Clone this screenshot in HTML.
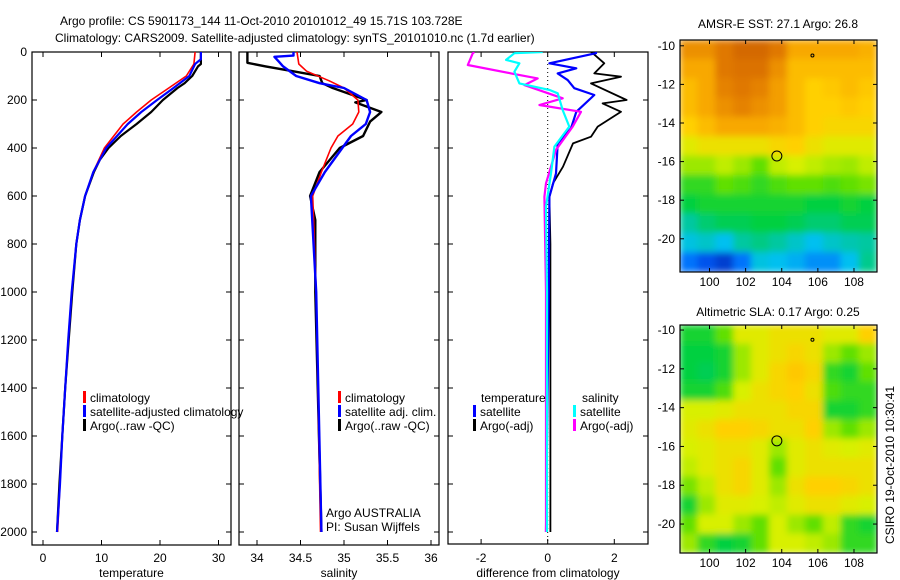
<!DOCTYPE html>
<html><head><meta charset="utf-8"><style>
html,body{margin:0;padding:0;background:#fff;}
svg{display:block;font-family:"Liberation Sans",sans-serif;}
text{font-size:12px;fill:#000;}
</style></head><body>
<svg id="c" width="900" height="580" viewBox="0 0 900 580">
<defs><filter id="bl" x="0" y="0" width="1" height="1"><feGaussianBlur stdDeviation="3.5"/></filter>
<clipPath id="m1c"><rect x="680" y="40" width="197" height="232"/></clipPath>
<clipPath id="m2c"><rect x="680" y="325" width="197" height="228"/></clipPath>
<clipPath id="p1c"><rect x="32" y="52" width="199" height="493"/></clipPath>
<clipPath id="p2c"><rect x="239" y="52" width="200" height="493"/></clipPath>
<clipPath id="p3c"><rect x="448" y="52" width="200" height="492"/></clipPath></defs>
</svg>
<script>
// ---- data ----
const depthTicks=[0,200,400,600,800,1000,1200,1400,1600,1800,2000];
const tempTicks=[0,10,20,30];
const salTicks=[34,34.5,35,35.5,36];
const diffTicks=[-2,0,2];
const tClimD=[0,50,100,150,200,250,300,400,500,600,700,800,1000,1200,1400,1600,1800,2000];
const tClimV=[26,25.8,24.5,21.5,18.5,16,13.7,10.5,8.6,7.2,6.3,5.7,4.9,4.3,3.8,3.3,2.9,2.5];
const tSatD=[0,30,50,100,150,200,250,300,400,500,600,700,800,1000,1200,1400,1600,1800,2000];
const tSatV=[27,27,26,25,22.3,19.5,16.8,14.5,10.8,8.6,7.2,6.3,5.7,4.9,4.3,3.8,3.3,2.9,2.4];
const tArgD=[0,50,60,100,130,150,200,250,300,350,400,450,500,600,700,800,1000,1200,1400,1600,1800,2000];
const tArgV=[27,27,26.5,25.5,24.2,23,20.5,18.5,16,13.3,11.2,9.7,8.7,7.2,6.3,5.7,5,4.4,3.8,3.3,2.8,2.4];
const sClimD=[0,50,80,120,150,200,250,300,350,400,500,600,1000,2000];
const sClimV=[34.46,34.48,34.57,34.83,35.0,35.16,35.17,35.1,34.93,34.85,34.74,34.64,34.68,34.73];
const sSatD=[0,15,20,40,60,100,130,150,200,250,300,350,400,500,600,1000,2000];
const sSatV=[34.42,34.42,34.2,34.25,34.3,34.45,34.72,35.0,35.26,35.3,35.25,35.08,34.98,34.78,34.62,34.68,34.74];
const sArgD=[0,45,60,80,100,130,150,200,210,250,290,350,400,500,600,700,1000,2000];
const sArgV=[33.89,33.89,34.1,34.41,34.72,34.75,34.87,35.26,35.13,35.43,35.3,35.22,34.95,34.72,34.61,34.67,34.67,34.74];
const dTArgD=[0,5,47,89,103,131,200,214,249,311,353,381,478,547,603,800,1200,2000];
const dTArgV=[1.3,1.35,1.7,1.4,2.2,1.3,2.37,1.65,2.2,1.5,1.3,0.76,0.46,0.16,0.05,0.08,0.08,0.08];
const dTSatD=[0,5,47,68,89,117,151,179,249,318,381,506,603,1000,2000];
const dTSatV=[1.45,1.45,0.05,0.86,0.3,0.6,0.8,1.4,0.86,0.7,0.3,0.25,0.05,0.03,-0.05];
const dSArgD=[0,5,54,89,110,138,193,221,249,311,408,547,603,1000,2000];
const dSArgV=[-2.2,-2.25,-2.4,-1.1,-0.3,-0.7,0.45,-0.25,1.0,0.75,0.25,-0.05,-0.1,-0.05,-0.05];
const dSSatD=[0,5,33,47,82,131,158,172,242,311,394,506,644,1000,2000];
const dSSatV=[-0.15,-1.0,-1.25,-0.85,-1.0,-0.85,0.05,0.3,0.45,0.65,0.2,0.1,-0.05,-0.02,-0.02];
const lonTicks=[100,102,104,106,108];
const latTicks=[-10,-12,-14,-16,-18,-20];
const sstGrid=[
[.85,.85,.9,.95,.95,.9,.8,.8,.8,.8,.78],
[.8,.8,.9,.92,.92,.85,.75,.75,.75,.75,.75],
[.75,.8,.88,.9,.88,.82,.75,.7,.72,.75,.72],
[.75,.8,.85,.88,.85,.82,.75,.7,.7,.72,.7],
[.7,.75,.8,.8,.8,.78,.75,.7,.68,.68,.68],
[.62,.65,.65,.65,.65,.68,.7,.65,.62,.62,.62],
[.55,.55,.58,.55,.5,.58,.6,.58,.56,.55,.58],
[.45,.45,.5,.48,.45,.48,.5,.5,.48,.5,.52],
[.4,.42,.42,.42,.42,.42,.42,.4,.4,.42,.4],
[.3,.35,.38,.38,.4,.4,.38,.35,.35,.38,.38],
[.22,.25,.2,.3,.33,.3,.25,.2,.25,.28,.3],
[.12,.08,.05,.12,.22,.2,.18,.15,.15,.2,.32]];
const slaGrid=[
[.42,.42,.5,.62,.62,.65,.65,.65,.62,.62,.7],
[.4,.4,.42,.55,.62,.65,.68,.65,.55,.5,.55],
[.4,.38,.42,.55,.62,.68,.72,.68,.45,.42,.5],
[.42,.42,.48,.6,.65,.68,.7,.65,.48,.45,.45],
[.6,.6,.62,.65,.65,.65,.68,.68,.42,.42,.45],
[.62,.65,.7,.7,.68,.65,.65,.7,.55,.5,.55],
[.6,.62,.65,.65,.62,.55,.62,.65,.62,.6,.62],
[.58,.62,.65,.68,.62,.5,.62,.65,.65,.65,.65],
[.52,.58,.65,.68,.62,.55,.65,.7,.7,.68,.65],
[.42,.55,.62,.62,.6,.58,.62,.65,.65,.62,.6],
[.5,.6,.6,.55,.5,.6,.55,.5,.58,.45,.42],
[.55,.45,.4,.42,.5,.6,.6,.58,.55,.45,.45]];

// ---- helpers ----
const NS='http://www.w3.org/2000/svg';
const svg=document.getElementById('c');
function mk(tag,attrs,parent){const e=document.createElementNS(NS,tag);for(const k in attrs)e.setAttribute(k,attrs[k]);(parent||svg).appendChild(e);return e;}
function txt(x,y,s,anchor,parent){const t=mk('text',{x:x,y:y,'text-anchor':anchor||'start'},parent);t.textContent=s;return t;}
const yD=d=>52+d*0.24;
const xT=v=>43+v*5.85;
const xS=v=>257+(v-34)*87;
const xDf=v=>547.7+v*33.3;

function panel(name,L,R,bottom,xf,xticks,xlabel,fmt){
  const g=mk('g',{});
  
  
  const fr=mk('rect',{x:L,y:52,width:R-L,height:bottom-52,fill:'none',stroke:'#000','stroke-width':1.2},g);
  
  
  xticks.forEach(v=>{const x=xf(v);
    mk('line',{x1:x,y1:bottom,x2:x,y2:bottom-5,stroke:'#000'},g);
    mk('line',{x1:x,y1:52,x2:x,y2:57,stroke:'#000'},g);
    const t=txt(x,562,fmt(v),'middle',g);
    
    });
  depthTicks.forEach(d=>{const y=yD(d);
    mk('line',{x1:L,y1:y,x2:L+5,y2:y,stroke:'#000'},g);
    mk('line',{x1:R,y1:y,x2:R-5,y2:y,stroke:'#000'},g);});
  const xl=txt((L+R)/2,577,xlabel,'middle',g);
  
  
  return g;
}
function line(D,V,xf,color,w,clip,name){
  const pts=D.map((d,i)=>xf(V[i]).toFixed(1)+','+yD(d).toFixed(1)).join(' ');
  const p=mk('polyline',{points:pts,fill:'none',stroke:color,'stroke-width':w,'clip-path':'url(#'+clip+')','stroke-linejoin':'round'});
  
  
}
function legendEntry(x,y,color,label,name){
  const g=mk('g',{});
  
  
  mk('rect',{x:x,y:y-11,width:3,height:12,fill:color},g);
  txt(x+7,y,label,'start',g);
}

// ---- titles ----
const t1=txt(60,25,'Argo profile: CS 5901173_144 11-Oct-2010 20101012_49 15.71S 103.728E');


const t2=txt(55,42,'Climatology: CARS2009. Satellite-adjusted climatology: synTS_20101010.nc (1.7d earlier)');



// ---- depth labels ----
depthTicks.forEach(d=>{const t=txt(27,yD(d)+4,String(d),'end');
  
  });

// ---- panels ----
panel('temperature-panel',32,231,545,xT,tempTicks,'temperature',v=>String(v));
panel('salinity-panel',239,439,545,xS,salTicks,'salinity',v=>String(v));
panel('difference-panel',448,648,544,xDf,diffTicks,'difference from climatology',v=>String(v));
const zl=mk('line',{x1:xDf(0),y1:52,x2:xDf(0),y2:544,stroke:'#000','stroke-dasharray':'1,3'});



line(tArgD,tArgV,xT,'#000',2.2,'p1c','temp-argo-line');
line(tClimD,tClimV,xT,'#f00',1.6,'p1c','temp-climatology-line');
line(tSatD,tSatV,xT,'#00f',2.2,'p1c','temp-satellite-line');
line(sArgD,sArgV,xS,'#000',2.4,'p2c','sal-argo-line');
line(sClimD,sClimV,xS,'#f00',1.6,'p2c','sal-climatology-line');
line(sSatD,sSatV,xS,'#00f',2.4,'p2c','sal-satellite-line');
line(dTArgD,dTArgV,xDf,'#000',1.8,'p3c','diff-temp-argo-line');
line(dTSatD,dTSatV,xDf,'#00f',2.2,'p3c','diff-temp-satellite-line');
line(dSArgD,dSArgV,xDf,'#f0f',2.2,'p3c','diff-sal-argo-line');
line(dSSatD,dSSatV,xDf,'#0ff',2.2,'p3c','diff-sal-satellite-line');

// ---- legends ----
legendEntry(83,402,'#f00','climatology','legend-temp-climatology');
legendEntry(83,416,'#00f','satellite-adjusted climatology','legend-temp-satellite');
legendEntry(83,430,'#000','Argo(..raw -QC)','legend-temp-argo');
legendEntry(338,402,'#f00','climatology','legend-sal-climatology');
legendEntry(338,416,'#00f','satellite adj. clim.','legend-sal-satellite');
legendEntry(338,430,'#000','Argo(..raw -QC)','legend-sal-argo');
const a1=txt(326,517,'Argo AUSTRALIA');
const a2=txt(326,531,'PI: Susan Wijffels');
const lt=txt(481,402,'temperature');
const ls=txt(582,402,'salinity');
legendEntry(473,416,'#00f','satellite','legend-diff-temp-satellite');
legendEntry(473,430,'#000','Argo(-adj)','legend-diff-temp-argo');
legendEntry(573,416,'#0ff','satellite','legend-diff-sal-satellite');
legendEntry(573,430,'#f0f','Argo(-adj)','legend-diff-sal-argo');

// ---- maps ----
const stops=[[0,[0,32,160]],[.1,[0,96,255]],[.2,[0,192,240]],[.3,[0,200,160]],[.4,[0,208,64]],[.5,[96,224,0]],[.6,[216,240,0]],[.7,[255,208,0]],[.8,[248,168,0]],[.9,[224,120,0]],[1,[200,90,0]]];
function cmap(v){for(let i=1;i<stops.length;i++){if(v<=stops[i][0]){const a=stops[i-1],b=stops[i],f=(v-a[0])/(b[0]-a[0]);
  return 'rgb('+a[1].map((c,k)=>Math.round(c+(b[1][k]-c)*f)).join(',')+')';}}return 'rgb(200,90,0)';}
function drawMap(name,grid,top,bottom,latTop,latPx,title,clip,titleGap){
  const g=mk('g',{});
  
  
  const lonX=lon=>709.5+(lon-100)*18.06;
  const latY=lat=>top+(latTop-lat)*latPx;
  const cg=mk('g',{'clip-path':'url(#'+clip+')'},g);
  const ig=mk('g',{filter:'url(#bl)'},cg);
  const rows=grid.length,cols=grid[0].length;
  const cw=(877-680)/cols,ch=(bottom-top)/rows;
  grid.forEach((row,r)=>row.forEach((v,c)=>{
    const cell=mk('rect',{x:680+c*cw-0.5,y:top+r*ch-0.5,width:cw+1,height:ch+1,fill:cmap(v)},ig);
    
    }));
  mk('rect',{x:680,y:top,width:197,height:bottom-top,fill:'none',stroke:'#000','stroke-width':1.2},g);
  lonTicks.forEach(l=>{const x=lonX(l);mk('line',{x1:x,y1:bottom,x2:x,y2:bottom-4,stroke:'#000'},g);mk('line',{x1:x,y1:top,x2:x,y2:top+4,stroke:'#000'},g);
    txt(x,bottom+14,String(l),'middle',g);});
  latTicks.forEach(l=>{const y=latY(l);mk('line',{x1:680,y1:y,x2:684,y2:y,stroke:'#000'},g);mk('line',{x1:877,y1:y,x2:873,y2:y,stroke:'#000'},g);
    txt(675,y+4,String(l),'end',g);});
  const mt=txt(778,top-titleGap,title,'middle',g);
  
  
  const pc=mk('circle',{cx:lonX(103.73),cy:latY(-15.71),r:5,fill:'none',stroke:'#000'},g);
  
  
  mk('circle',{cx:lonX(105.7),cy:latY(-10.5),r:1.5,fill:'none',stroke:'#000'},g);
}
drawMap('sst-map',sstGrid,40,272,-9.7,19.3,'AMSR-E SST: 27.1 Argo: 26.8','m1c',12);
drawMap('sla-map',slaGrid,325,553,-9.74,19.4,'Altimetric SLA: 0.17 Argo: 0.25','m2c',9);
const ts=txt(0,0,'CSIRO 19-Oct-2010 10:30:41','middle');
ts.setAttribute('transform','translate(894,465) rotate(-90)');


</script>
</body></html>
